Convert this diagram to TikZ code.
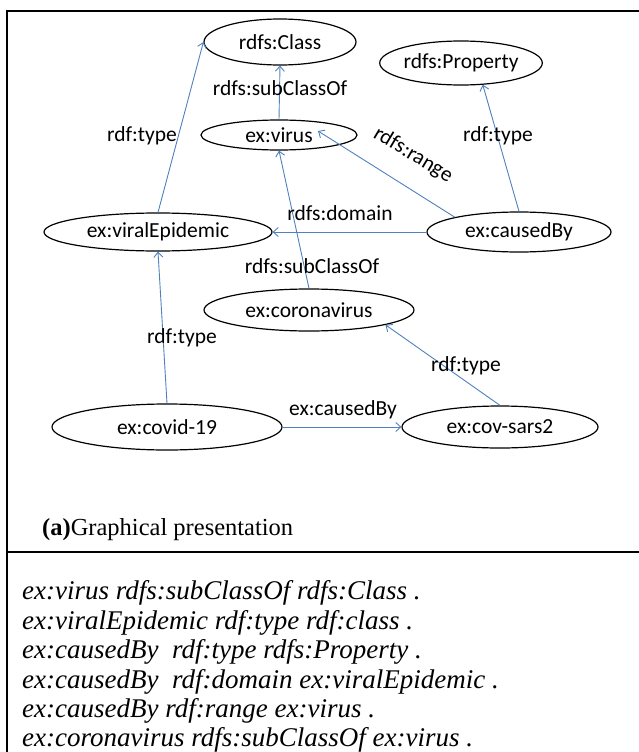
\documentclass[tikz,border=0pt]{standalone}
\usepackage{fontspec}
\setmainfont{Liberation Serif}
\newfontfamily\diagfont{Carlito}
\usetikzlibrary{shapes.geometric,arrows.meta,calc}
\definecolor{linkblue}{RGB}{79,129,189}

\begin{document}
\begin{tikzpicture}[x=1pt,y=-1pt,
  cls/.style={ellipse,draw=black,line width=1.2pt,inner sep=0pt,
    font=\diagfont\fontsize{21.5}{25}\selectfont},
  rel/.style={draw=linkblue,line width=0.9pt,-{Straight Barb[length=5pt,width=9pt]}},
  lbl/.style={font=\diagfont\fontsize{21.5}{25}\selectfont,inner sep=0pt},
  frameline/.style={line width=2pt,line join=miter},
  triple/.style={anchor=base west,inner sep=0pt,font=\fontsize{27}{29.4}\selectfont\itshape}]

\useasboundingbox (0,0) rectangle (639,752);

% outer frame and divider
\draw[frameline] (7,760) -- (7,11) -- (645,11);
\draw[frameline] (6,552) -- (645,552);

% classes and properties
\node[cls, minimum width=152pt, minimum height=46pt] (rc)   at (280,42)  {rdfs:Class};
\node[cls, minimum width=154pt, minimum height=44pt] (rp)   at (461,63)  {rdfs:Property};
\node[cls, minimum width=156pt, minimum height=30pt] (vir)  at (279,135) {ex:virus};
\node[cls, minimum width=228pt, minimum height=38pt] (ve)   at (158,232) {ex:viralEpidemic};
\node[cls, minimum width=184pt, minimum height=40pt] (cb)   at (519,232) {ex:causedBy};
\node[cls, minimum width=210pt, minimum height=42pt] (cor)  at (309,310) {ex:coronavirus};
\node[cls, minimum width=230pt, minimum height=46pt] (cov)  at (167,427) {ex:covid-19};
\node[cls, minimum width=196pt, minimum height=42pt] (sars) at (500,427) {ex:cov-sars2};

\coordinate (virtip) at ($(vir.center)+(39,-4)$);

% relations
\draw[rel] (ve.north)   -- (rc.west);
\draw[rel] (vir.north)  -- (rc.south);
\draw[rel] (cb.north)   -- (rp.-45);
\draw[rel] (cb.167)     -- (virtip);
\draw[rel] (cb.west)    -- (ve.east);
\draw[rel] (cor.north)  -- (vir.south);
\draw[rel] (cov.north)  -- (ve.south);
\draw[rel] (sars.north) -- (cor.-11);
\draw[rel] (cov.east)   -- (sars.west);

% relation labels
\node[lbl] (l1) at (142,136) {rdf:type};
\node[lbl] (l2) at (280,88)  {rdfs:subClassOf};
\node[lbl] (l3) at (498,136) {rdf:type};
\node[lbl, rotate=-31] (l4) at (413,155) {rdfs:range};
\node[lbl] (l5) at (340,213) {rdfs:domain};
\node[lbl] (l6) at (312,266) {rdfs:subClassOf};
\node[lbl] (l7) at (182,338) {rdf:type};
\node[lbl] (l8) at (466,366) {rdf:type};
\node[lbl] (l9) at (343,410) {ex:causedBy};

% caption
\node[anchor=base west, inner sep=0pt, font=\fontsize{24.5}{28}\selectfont] (cap) at (42,535)
  {\textbf{(a)}Graphical presentation};

% triples
\node[triple] (t1) at (22,599) {ex:virus rdfs:subClassOf rdfs:Class .};
\node[triple] (t2) at (22,629) {ex:viralEpidemic rdf:type rdf:class .};
\node[triple] (t3) at (22,658) {ex:causedBy\ \ rdf:type rdfs:Property .};
\node[triple] (t4) at (22,688) {ex:causedBy\ \ rdf:domain ex:viralEpidemic .};
\node[triple] (t5) at (22,717) {ex:causedBy rdf:range ex:virus .};
\node[triple] (t6) at (22,746) {ex:coronavirus rdfs:subClassOf ex:virus .};
\end{tikzpicture}
\end{document}
